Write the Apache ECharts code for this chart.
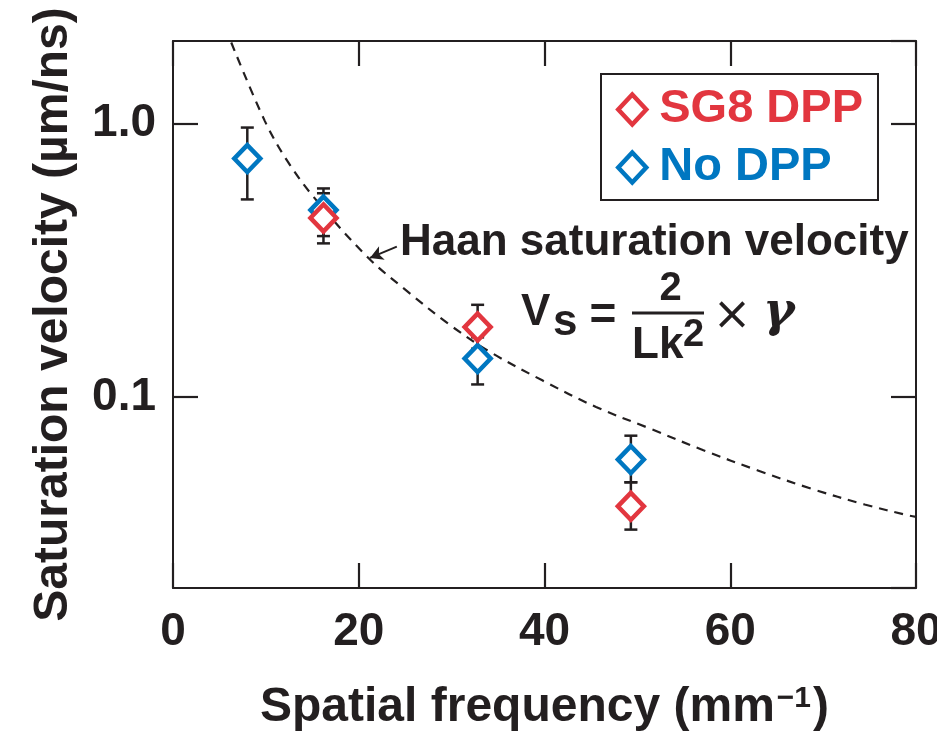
<!DOCTYPE html>
<html>
<head>
<meta charset="utf-8">
<script src="https://cdn.jsdelivr.net/npm/echarts@6/dist/echarts.min.js"></script>
<style>
html,body{margin:0;padding:0;background:#fff;}
#chart{width:937px;height:732px;}
</style>
</head>
<body>
<div id="chart"></div>
<script>
// ---- data ----
const xTicks = [0, 20, 40, 60, 80];
const yTickValues = [0.1, 1];
const yTickLabels = ['0.1', '1.0'];

const seriesNames = ['SG8 DPP', 'No DPP'];

const xRed = [16.2, 32.8, 49.3];
const vRed = [0.451, 0.180, 0.0398];
const redLow = [0.364, 0.150, 0.0327];
const redHigh = [0.555, 0.217, 0.0487];

const xBlue = [8.0, 16.2, 32.8, 49.3];
const vBlue = [0.743, 0.482, 0.138, 0.059];
const blueLow = [0.527, 0.387, 0.111, 0.0487];
const blueHigh = [0.965, 0.578, 0.165, 0.0721];

// Haan saturation velocity curve
const curveX = [6.27, 9.88, 12.29, 15.18, 20.96, 25.30, 29.64, 33.98, 39.76, 45.55, 51.33, 57.11, 62.90, 68.68, 74.47, 79.28, 80];
const curveY = [1.975, 1.021, 0.730, 0.536, 0.3237, 0.242, 0.185, 0.147, 0.1149, 0.0918, 0.0766, 0.0638, 0.0539, 0.0462, 0.0404, 0.0368, 0.0364];

// arrow annotation from label to curve
const arrowFrom = [24.1, 0.354];
const arrowTo = [21.2, 0.322];

// ---- styling ----
const INK = '#231f20';
const RED = '#e2363f';
const BLUE = '#0077c1';
const FONT = '"Liberation Sans", Arial, Helvetica, sans-serif';

function zip(a, b) { return a.map((v, i) => [v, b[i]]); }
function zip3(a, b, c) { return a.map((v, i) => [v, b[i], c[i]]); }

function errRender(params, api) {
  const x = api.value(0), lo = api.value(1), hi = api.value(2);
  const pLo = api.coord([x, lo]);
  const pHi = api.coord([x, hi]);
  const w = 6.5;
  const st = { stroke: INK, lineWidth: 2.5 };
  return {
    type: 'group',
    children: [
      { type: 'line', shape: { x1: pLo[0], y1: pLo[1], x2: pHi[0], y2: pHi[1] }, style: st },
      { type: 'line', shape: { x1: pLo[0] - w, y1: pLo[1], x2: pLo[0] + w, y2: pLo[1] }, style: st },
      { type: 'line', shape: { x1: pHi[0] - w, y1: pHi[1], x2: pHi[0] + w, y2: pHi[1] }, style: st }
    ]
  };
}

function yLabel(v) {
  let best = 0, bd = Infinity;
  yTickValues.forEach((t, i) => {
    const d = Math.abs(Math.log10(v) - Math.log10(t));
    if (d < bd) { bd = d; best = i; }
  });
  return bd < 0.01 ? yTickLabels[best] : '';
}

const chart = echarts.init(document.getElementById('chart'), null, { renderer: 'canvas' });

function xLine() { return { show: true, lineStyle: { color: INK, width: 2 } }; }
function yLine() { return { show: true, onZero: false, lineStyle: { color: INK, width: 2 } }; }
function ticks() { return { show: true, inside: true, length: 25, lineStyle: { color: INK, width: 2.2 } }; }

const option = {
  backgroundColor: '#fff',
  animation: false,
  textStyle: { fontFamily: FONT },
  grid: { left: 173, right: 21, top: 41, bottom: 144, containLabel: false, outerBoundsMode: 'none' },
  legend: {
    show: true,
    orient: 'vertical',
    left: 601,
    top: 74,
    padding: [12, 15, 9, 15],
    itemGap: 11,
    itemWidth: 28,
    itemHeight: 30,
    borderColor: INK,
    borderWidth: 2,
    backgroundColor: '#fff',
    icon: 'diamond',
    selectedMode: false,
    textStyle: { fontSize: 47, fontWeight: 'bold', fontFamily: FONT, lineHeight: 46, padding: [0, 0, 0, 8] },
    data: [
      { name: seriesNames[0], textStyle: { color: RED }, itemStyle: { color: '#fff', borderColor: RED, borderWidth: 4.5 } },
      { name: seriesNames[1], textStyle: { color: BLUE }, itemStyle: { color: '#fff', borderColor: BLUE, borderWidth: 4.5 } }
    ]
  },
  xAxis: [
    {
      type: 'value', position: 'bottom', min: xTicks[0], max: xTicks[xTicks.length - 1], interval: 20,
      axisLine: xLine(), axisTick: ticks(), splitLine: { show: false },
      axisLabel: { fontSize: 46, fontWeight: 'bold', color: INK, fontFamily: FONT, margin: 21 },
      name: 'Spatial frequency (mm{sup|\u22121})',
      nameLocation: 'middle', nameGap: 96,
      nameTextStyle: {
        fontSize: 48, fontWeight: 'bold', color: INK, fontFamily: FONT,
        rich: { sup: { fontSize: 30, fontWeight: 'bold', color: INK, verticalAlign: 'top', fontFamily: FONT, padding: [0, 2, 0, 2] } }
      }
    },
    {
      type: 'value', position: 'top', min: xTicks[0], max: xTicks[xTicks.length - 1], interval: 20,
      axisLine: xLine(), axisTick: ticks(), splitLine: { show: false },
      axisLabel: { show: false }
    }
  ],
  yAxis: [
    {
      type: 'log', logBase: 10, position: 'left', min: 0.02, max: 2,
      axisLine: yLine(), axisTick: ticks(), splitLine: { show: false },
      minorTick: { show: false },
      axisLabel: { fontSize: 46, fontWeight: 'bold', color: INK, fontFamily: FONT, margin: 17,
        showMinLabel: false, showMaxLabel: false, formatter: yLabel },
      name: 'Saturation velocity (\u00b5m/ns)',
      nameLocation: 'middle', nameGap: 95, nameRotate: 90,
      nameTextStyle: { fontSize: 48, fontWeight: 'bold', color: INK, fontFamily: FONT }
    },
    {
      type: 'log', logBase: 10, position: 'right', min: 0.02, max: 2,
      axisLine: yLine(), axisTick: ticks(), splitLine: { show: false },
      minorTick: { show: false },
      axisLabel: { show: false }
    }
  ],
  series: [
    {
      name: 'Haan saturation velocity',
      type: 'line',
      xAxisIndex: 0, yAxisIndex: 0,
      data: zip(curveX, curveY),
      smooth: 0.35,
      showSymbol: false,
      clip: true,
      silent: true,
      lineStyle: { color: INK, width: 2.2, type: [9, 7] },
      z: 1,
      markLine: {
        silent: true,
        symbol: ['none', 'arrow'],
        symbolSize: [11, 13],
        label: { show: false },
        lineStyle: { color: INK, width: 2, type: 'solid' },
        data: [[{ coord: arrowFrom }, { coord: arrowTo }]]
      }
    },
    {
      name: 'errNo', type: 'custom', xAxisIndex: 0, yAxisIndex: 0,
      renderItem: errRender, data: zip3(xBlue, blueLow, blueHigh),
      encode: { x: 0, y: [1, 2] }, z: 2, silent: true
    },
    {
      name: 'errSG8', type: 'custom', xAxisIndex: 0, yAxisIndex: 0,
      renderItem: errRender, data: zip3(xRed, redLow, redHigh),
      encode: { x: 0, y: [1, 2] }, z: 2, silent: true
    },
    {
      name: seriesNames[1], type: 'scatter', xAxisIndex: 0, yAxisIndex: 0,
      data: zip(xBlue, vBlue), symbol: 'diamond', symbolSize: [26, 27],
      itemStyle: { color: '#fff', borderColor: BLUE, borderWidth: 4.5, opacity: 1 },
      z: 3
    },
    {
      name: seriesNames[0], type: 'scatter', xAxisIndex: 0, yAxisIndex: 0,
      data: zip(xRed, vRed), symbol: 'diamond', symbolSize: [26, 27],
      itemStyle: { color: '#fff', borderColor: RED, borderWidth: 4.5, opacity: 1 },
      z: 4
    }
  ],
  graphic: [
    { type: 'text', z: 10, style: { text: 'Haan saturation velocity', x: 400, y: 243, font: 'bold 44px ' + FONT, fill: INK, verticalAlign: 'middle', align: 'left' } },
    { type: 'text', z: 10, style: { text: 'V', x: 521, y: 313, font: 'bold 44px ' + FONT, fill: INK, verticalAlign: 'middle', align: 'left' } },
    { type: 'text', z: 10, style: { text: 's', x: 553, y: 323, font: 'bold 44px ' + FONT, fill: INK, verticalAlign: 'middle', align: 'left' } },
    { type: 'text', z: 10, style: { text: '=', x: 603, y: 316, font: 'bold 46px ' + FONT, fill: INK, verticalAlign: 'middle', align: 'center' } },
    { type: 'rect', z: 10, shape: { x: 632, y: 311.5, width: 72, height: 3 }, style: { fill: INK } },
    { type: 'text', z: 10, style: { text: '2', x: 670.5, y: 289, font: 'bold 40px ' + FONT, fill: INK, verticalAlign: 'middle', align: 'center' } },
    { type: 'text', z: 10, style: { text: 'Lk', x: 632, y: 346, font: 'bold 44px ' + FONT, fill: INK, verticalAlign: 'middle', align: 'left' } },
    { type: 'text', z: 10, style: { text: '2', x: 683, y: 336, font: 'bold 38px ' + FONT, fill: INK, verticalAlign: 'middle', align: 'left' } },
    { type: 'text', z: 10, style: { text: '\u00d7', x: 732, y: 317, font: '46px "DejaVu Sans", sans-serif', fill: INK, verticalAlign: 'middle', align: 'center' } },
    { type: 'text', z: 10, style: { text: '\u03b3', x: 763, y: 314, font: 'italic bold 48px "DejaVu Serif", serif', fill: INK, verticalAlign: 'middle', align: 'left' } }
  ]
};

chart.setOption(option);
</script>
</body>
</html>
